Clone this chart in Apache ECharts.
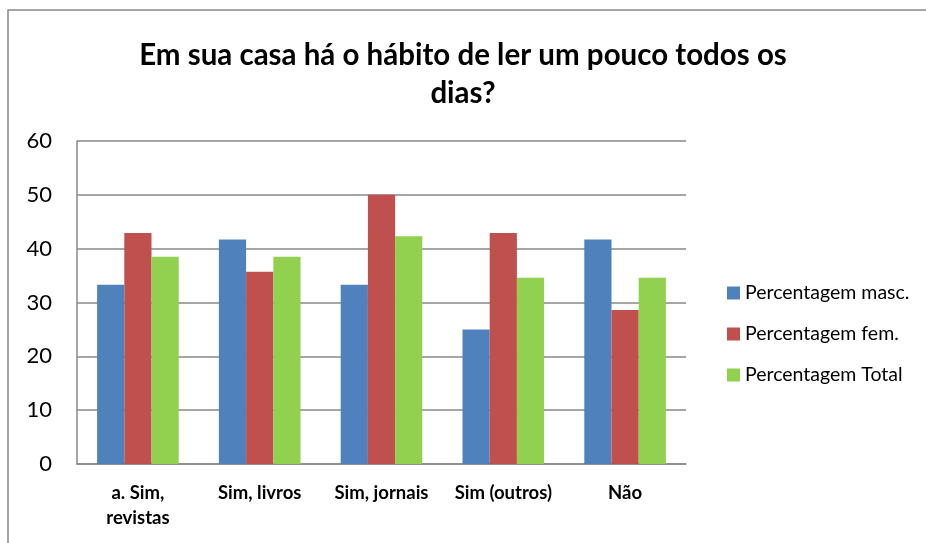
<!DOCTYPE html>
<html>
<head>
<meta charset="utf-8">
<script src="https://cdn.jsdelivr.net/npm/echarts@6/dist/echarts.min.js"></script>
<style>
  html, body { margin: 0; padding: 0; background: #fff; }
  #chart-container { width: 926px; height: 543px; }
</style>
</head>
<body>
<div id="chart-container"></div>
<script>
var dom = document.getElementById("chart-container");
var myChart = echarts.init(dom, null, { renderer: "canvas" });

const categories = ["a. Sim,\nrevistas", "Sim, livros", "Sim, jornais", "Sim (outros)", "Não"];
const seriesNames = ["Percentagem masc.", "Percentagem fem.", "Percentagem Total"];
const masc = [33.3, 41.7, 33.3, 25.0, 41.7];
const fem = [42.9, 35.7, 50.0, 42.9, 28.6];
const total = [38.5, 38.5, 42.3, 34.6, 34.6];
const colors = ["#4f81bd", "#c0504d", "#92d050"];

const font = "Lato, 'Open Sans', sans-serif";

var option = {
  animation: false,
  backgroundColor: "#fff",
  color: colors,
  title: {
    text: "Em sua casa há o hábito de ler um pouco todos os\ndias?",
    left: 458,
    textAlign: "center",
    top: 31,
    textStyle: {
      fontFamily: font,
      fontSize: 29.5,
      fontWeight: "bold",
      color: "#000",
      lineHeight: 38,
    },
  },
  graphic: [
    {
      type: "polyline",
      shape: { points: [[8, 543], [8, 10], [926, 10]] },
      style: { stroke: "#888", lineWidth: 1.5, fill: null },
    },
  ],
  legend: {
    orient: "vertical",
    left: 722,
    top: 278,
    itemWidth: 13,
    itemHeight: 13,
    itemGap: 21,
    icon: "rect",
    textStyle: { fontFamily: font, fontSize: 19.5, color: "#000", padding: [0, 0, 0, 0] },
    data: seriesNames,
  },
  grid: { left: 77, right: 240, top: 141, bottom: 79 },
  xAxis: {
    type: "category",
    data: categories,
    axisLine: { lineStyle: { color: "#888", width: 1.5 } },
    axisTick: { show: false },
    axisLabel: {
      interval: 0,
      margin: 17,
      fontFamily: font,
      fontSize: 18.5,
      fontWeight: "bold",
      color: "#000",
      lineHeight: 25,
    },
  },
  yAxis: {
    type: "value",
    min: 0,
    max: 60,
    interval: 10,
    axisLine: { show: true, lineStyle: { color: "#888", width: 1.5 } },
    axisTick: { show: false },
    splitLine: { lineStyle: { color: "#888", width: 1.5 } },
    axisLabel: { margin: 25, fontFamily: font, fontSize: 22, color: "#000" },
  },
  series: [
    { name: seriesNames[0], type: "bar", data: masc, barGap: "0%", barCategoryGap: "33%" },
    { name: seriesNames[1], type: "bar", data: fem, barGap: "0%", barCategoryGap: "33%" },
    { name: seriesNames[2], type: "bar", data: total, barGap: "0%", barCategoryGap: "33%" },
  ],
};

myChart.setOption(option);
window.addEventListener("resize", myChart.resize);
</script>
</body>
</html>
